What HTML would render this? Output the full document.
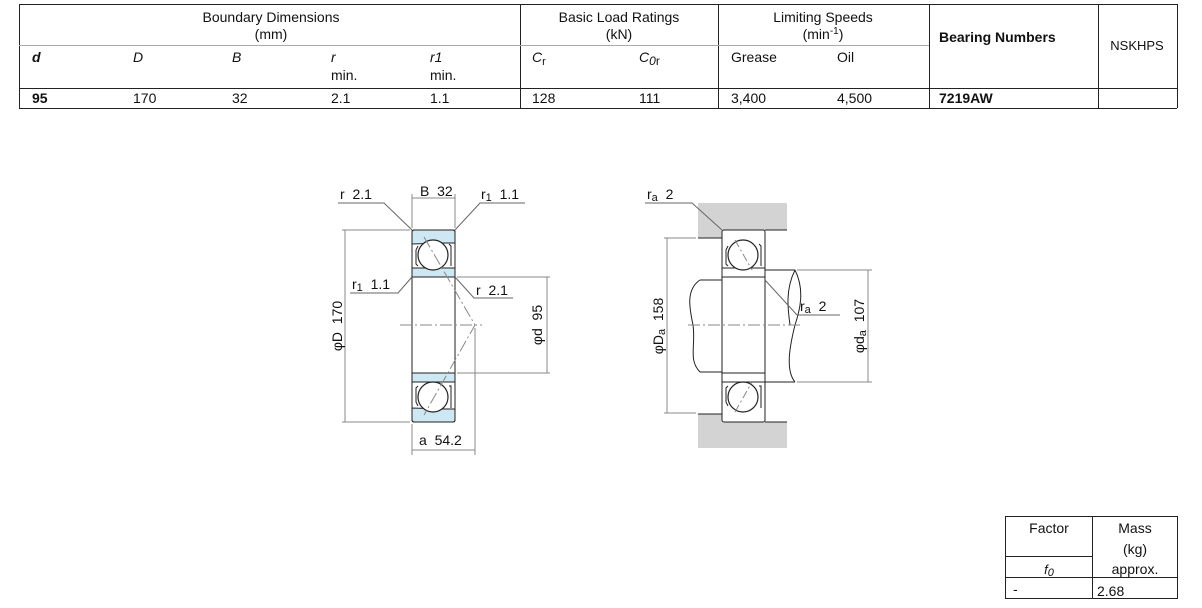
<!DOCTYPE html>
<html><head><meta charset="utf-8"><style>
body{margin:0;background:#fff;width:1202px;height:608px;overflow:hidden;position:relative;font-family:"Liberation Sans",Arial,sans-serif}
svg{position:absolute;left:0;top:0}
.pre text{white-space:pre}
</style></head><body>
<svg width="1202" height="608" viewBox="0 0 1202 608" font-family="Liberation Sans, Arial, sans-serif">
<g stroke="#222" stroke-width="1" fill="none">
<line x1="19" y1="4.5" x2="1177" y2="4.5"/>
<line x1="19" y1="88.5" x2="1177" y2="88.5"/>
<line x1="19" y1="108.5" x2="1177" y2="108.5"/>
<line x1="19.5" y1="4" x2="19.5" y2="108"/>
<line x1="520.5" y1="4" x2="520.5" y2="108"/>
<line x1="718.5" y1="4" x2="718.5" y2="108"/>
<line x1="929.5" y1="4" x2="929.5" y2="108"/>
<line x1="1098.5" y1="4" x2="1098.5" y2="108"/>
<line x1="1177.5" y1="4" x2="1177.5" y2="108"/>
</g>
<line x1="19" y1="45.5" x2="929" y2="45.5" stroke="#aaa"/>
<g font-size="14" fill="#111">
<text x="271" y="22" text-anchor="middle">Boundary Dimensions</text>
<text x="271" y="39" text-anchor="middle">(mm)</text>
<text x="619" y="22" text-anchor="middle">Basic Load Ratings</text>
<text x="619" y="39" text-anchor="middle">(kN)</text>
<text x="823" y="22" text-anchor="middle">Limiting Speeds</text>
<text x="823" y="39" text-anchor="middle">(min<tspan font-size="10" dy="-5">-1</tspan><tspan dy="5">)</tspan></text>
<text x="939" y="42" font-weight="bold">Bearing Numbers</text>
<text x="1137" y="50" text-anchor="middle" font-size="13">NSKHPS</text>
<text x="32" y="62" font-weight="bold" font-style="italic">d</text>
<text x="133" y="62" font-style="italic">D</text>
<text x="232" y="62" font-style="italic">B</text>
<text x="331" y="62" font-style="italic">r</text>
<text x="430" y="62" font-style="italic">r1</text>
<text x="331" y="80">min.</text>
<text x="430" y="80">min.</text>
<text x="532" y="62" font-style="italic">C<tspan font-style="normal" font-size="11" dy="3">r</tspan></text>
<text x="639" y="62" font-style="italic">C<tspan font-size="12" dy="3">0</tspan><tspan font-style="normal" font-size="12">r</tspan></text>
<text x="731" y="62">Grease</text>
<text x="837" y="62">Oil</text>
<text x="32" y="103" font-weight="bold">95</text>
<text x="133" y="103">170</text>
<text x="232" y="103">32</text>
<text x="331" y="103">2.1</text>
<text x="430" y="103">1.1</text>
<text x="532" y="103">128</text>
<text x="639" y="103">111</text>
<text x="731" y="103">3,400</text>
<text x="837" y="103">4,500</text>
<text x="939" y="103" font-weight="bold">7219AW</text>
</g>
<g stroke="#222" fill="none">
<rect x="1005.5" y="516.5" width="172" height="82"/>
<line x1="1092.5" y1="516" x2="1092.5" y2="598"/>
<line x1="1005" y1="556.5" x2="1092" y2="556.5"/>
<line x1="1005" y1="577.5" x2="1177" y2="577.5"/>
</g>
<g font-size="14" fill="#111" text-anchor="middle">
<text x="1049" y="533">Factor</text>
<text x="1135" y="533">Mass</text>
<text x="1135" y="554">(kg)</text>
<text x="1049" y="574" font-style="italic" font-size="13">f<tspan font-size="11" dy="2">0</tspan></text>
<text x="1135" y="574">approx.</text>
<text x="1013" y="594" text-anchor="start">-</text>
<text x="1097" y="596" text-anchor="start">2.68</text>
</g>

<g stroke="#222" fill="none" stroke-width="1">
<path d="M412,232 Q412,230 414,230 L453,230 Q455,230 455,232 L455,243 L445,243 L412,244 Z" fill="#cde7f3"/>
<rect x="412" y="268" width="43" height="9" fill="#cde7f3"/>
<path d="M412,420 Q412,422 414,422 L453,422 Q455,422 455,420 L455,409 L445,409 L412,408 Z" fill="#cde7f3"/>
<rect x="412" y="373" width="43" height="9" fill="#cde7f3"/>
<rect x="412" y="230" width="43" height="192" rx="2"/>
<line x1="412" y1="277" x2="455" y2="277"/><line x1="412" y1="373" x2="455" y2="373"/>
<path d="M418,246 L416,250 L416,264 L418,266 M449,244 L451,246 L451,266"/>
<path d="M418,386 L416,388 L416,402 L418,406 M449,386 L451,386 L451,408"/>
<circle cx="433" cy="255" r="15" fill="#fff" stroke-width="1.2"/>
<circle cx="433" cy="397" r="15" fill="#fff" stroke-width="1.2"/>
<line x1="345" y1="230" x2="345" y2="422" stroke="#888"/>
<line x1="342" y1="230" x2="410" y2="230" stroke="#888"/>
<line x1="342" y1="422" x2="410" y2="422" stroke="#888"/>
<line x1="547" y1="277" x2="547" y2="373" stroke="#888"/>
<line x1="457" y1="277" x2="550" y2="277" stroke="#888"/>
<line x1="457" y1="373" x2="550" y2="373" stroke="#888"/>
<line x1="412" y1="198" x2="455" y2="198" stroke="#888"/>
<line x1="412" y1="194" x2="412" y2="228" stroke="#888"/>
<line x1="455" y1="194" x2="455" y2="228" stroke="#888"/>
<line x1="412" y1="450" x2="475" y2="450" stroke="#888"/>
<line x1="412" y1="424" x2="412" y2="455" stroke="#888"/>
<line x1="475" y1="328" x2="475" y2="455" stroke="#888"/>
<line x1="400" y1="325" x2="482" y2="325" stroke="#888" stroke-dasharray="12,3,2,3"/>
<path d="M424,237 L475,325 L424,415" stroke="#888" stroke-dasharray="12,3,2,3"/>
<path d="M338,203 L384,203 L412,230" stroke="#666"/>
<path d="M525,203 L480,203 L455,230" stroke="#666"/>
<path d="M350,293 L398,293 L412,277" stroke="#666"/>
<path d="M513,298 L474,298 L455,277" stroke="#666"/>
</g>
<g font-size="14" fill="#111" class="pre" xml:space="preserve">
<text x="340" y="199">r  2.1</text>
<text x="420" y="196">B  32</text>
<text x="481" y="199">r<tspan font-size="11" dy="2">1</tspan><tspan dy="-2">  1.1</tspan></text>
<text x="352" y="289">r<tspan font-size="11" dy="2">1</tspan><tspan dy="-2">  1.1</tspan></text>
<text x="476" y="295">r  2.1</text>
<text x="419" y="445">a  54.2</text>
<text transform="translate(342,326) rotate(-90)" text-anchor="middle">φD  170</text>
<text transform="translate(542,325) rotate(-90)" text-anchor="middle">φd  95</text>
</g>

<g stroke="#222" fill="none">
<path d="M698,203 L787,203 L787,230 L722,230 L722,238 L698,238 Z" fill="#d3d3d3" stroke="none"/>
<path d="M698,448 L787,448 L787,422 L722,422 L722,414 L698,414 Z" fill="#d3d3d3" stroke="none"/>
<line x1="698" y1="238" x2="722" y2="238"/><line x1="765" y1="230" x2="787" y2="230"/>
<line x1="698" y1="414" x2="722" y2="414"/><line x1="765" y1="422" x2="787" y2="422"/>
<path d="M722,280 L700,280 M722,372 L700,372 M765,270 L795,270 M765,382 L795,382" />
<path d="M700,280 C685,290 690,310 693,325 C696,345 688,360 700,372"/>
<path d="M795,270 C805,290 800,310 795,325 C790,345 785,370 795,382"/>
<path d="M795,270 C785,290 788,310 790,325"/>
<rect x="722" y="230" width="43" height="192" fill="#fff" rx="2"/>
<line x1="722" y1="268" x2="765" y2="268"/><line x1="722" y1="277" x2="765" y2="277"/>
<line x1="722" y1="373" x2="765" y2="373"/><line x1="722" y1="382" x2="765" y2="382"/>
<path d="M728,246 L726,250 L726,264 L728,266 M759,244 L761,246 L761,266"/>
<path d="M728,386 L726,388 L726,402 L728,406 M759,386 L761,386 L761,408"/>
<circle cx="743" cy="255" r="15" fill="#fff" stroke-width="1.2"/>
<circle cx="743" cy="397" r="15" fill="#fff" stroke-width="1.2"/>
<path d="M735,240 L752,270 M735,412 L752,382" stroke="#888" stroke-dasharray="8,3,2,3"/>
<line x1="688" y1="325" x2="800" y2="325" stroke="#888" stroke-dasharray="12,3,2,3"/>
<line x1="667" y1="238" x2="667" y2="413" stroke="#888"/>
<line x1="664" y1="238" x2="696" y2="238" stroke="#888"/>
<line x1="664" y1="413" x2="696" y2="413" stroke="#888"/>
<line x1="868" y1="270" x2="868" y2="382" stroke="#888"/>
<line x1="797" y1="270" x2="872" y2="270" stroke="#888"/>
<line x1="797" y1="382" x2="872" y2="382" stroke="#888"/>
<path d="M645,203 L692,203 L722,230" stroke="#666"/>
<path d="M840,315 L797,315 L765,280" stroke="#666"/>
</g>
<g font-size="14" fill="#111" class="pre" xml:space="preserve">
<text x="647" y="199">r<tspan font-size="11" dy="2">a</tspan><tspan dy="-2">  2</tspan></text>
<text x="800" y="311">r<tspan font-size="11" dy="2">a</tspan><tspan dy="-2">  2</tspan></text>
<text transform="translate(663,326) rotate(-90)" text-anchor="middle">φD<tspan font-size="11" dy="2">a</tspan><tspan dy="-2">  158</tspan></text>
<text transform="translate(864,326) rotate(-90)" text-anchor="middle">φd<tspan font-size="11" dy="2">a</tspan><tspan dy="-2">  107</tspan></text>
</g>
</svg>
</body></html>
